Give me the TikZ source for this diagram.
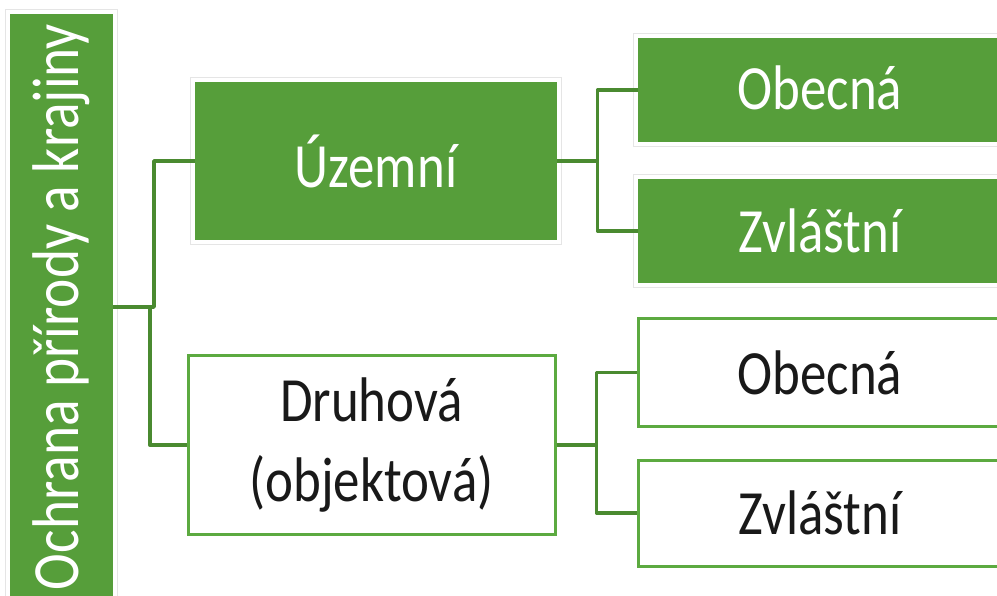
\documentclass[tikz,border=0pt]{standalone}
\usepackage{fontspec}
\setmainfont{Carlito}[FakeStretch=0.84]
\usetikzlibrary{calc}
\definecolor{gfill}{RGB}{86,158,58}
\definecolor{gline}{RGB}{74,138,48}
\definecolor{gbord}{RGB}{92,170,64}
\begin{document}
\begin{tikzpicture}[x=1pt,y=-1pt,
 box/.style={rectangle, inner sep=0pt, font=\fontsize{63}{80}\selectfont, align=center},
 filled/.style={box, fill=gfill, text=white},
 openbox/.style={box, draw=gbord, line width=3pt, fill=white, text=black!90},
 frame/.style={draw=black!10, line width=1pt},
 conn/.style={draw=gline, line width=3.8pt, line join=round}]
\useasboundingbox (0,0) rectangle (997,596);
\begin{scope}
\clip (0,0) rectangle (997,596);
\node[filled, minimum width=103pt, minimum height=586pt] (root) at (61.5,307) {};
\node[box, rotate=90, text=white, font=\fontsize{66}{80}\selectfont] (roottext) at (root.center) {Ochrana přírody a krajiny};
\node[filled, minimum width=362pt, minimum height=158pt] (uz) at (376,161) {Územní};
\node[filled, minimum width=364pt, minimum height=104pt] (o1) at (820,90) {\raisebox{4pt}{Obecná}};
\node[filled, minimum width=364pt, minimum height=104pt] (z1) at (820,231) {Zvláštní};
\node[openbox, minimum width=367pt, minimum height=178pt] (dr) at (371.5,445) {Druhová\\(objektová)};
\node[openbox, minimum width=364pt, minimum height=108pt] (o2) at (820,372.5) {Obecná};
\node[openbox, minimum width=364pt, minimum height=106pt] (z2) at (820,513) {Zvláštní};
\foreach \n in {root,uz,o1,z1}
  \draw[frame] ($(\n.north west)+(-4,-4)$) rectangle ($(\n.south east)+(4,4)$);
\draw[conn] (root.east) -- ($(root.east)!0.5!(root.east -| uz.west)$) |- (uz.west);
\draw[conn] (root.east) -- ($(root.east)!0.5!(root.east -| dr.west)$) |- (dr.west);
\draw[conn] (uz.east) -- ($(uz.east)!0.5!(uz.east -| o1.west)$) |- (o1.west);
\draw[conn] (uz.east) -- ($(uz.east)!0.5!(uz.east -| z1.west)$) |- (z1.west);
\draw[conn] (dr.east) -- ($(dr.east)!0.5!(dr.east -| o2.west)$) |- (o2.west);
\draw[conn] (dr.east) -- ($(dr.east)!0.5!(dr.east -| z2.west)$) |- (z2.west);
\end{scope}
\end{tikzpicture}
\end{document}
